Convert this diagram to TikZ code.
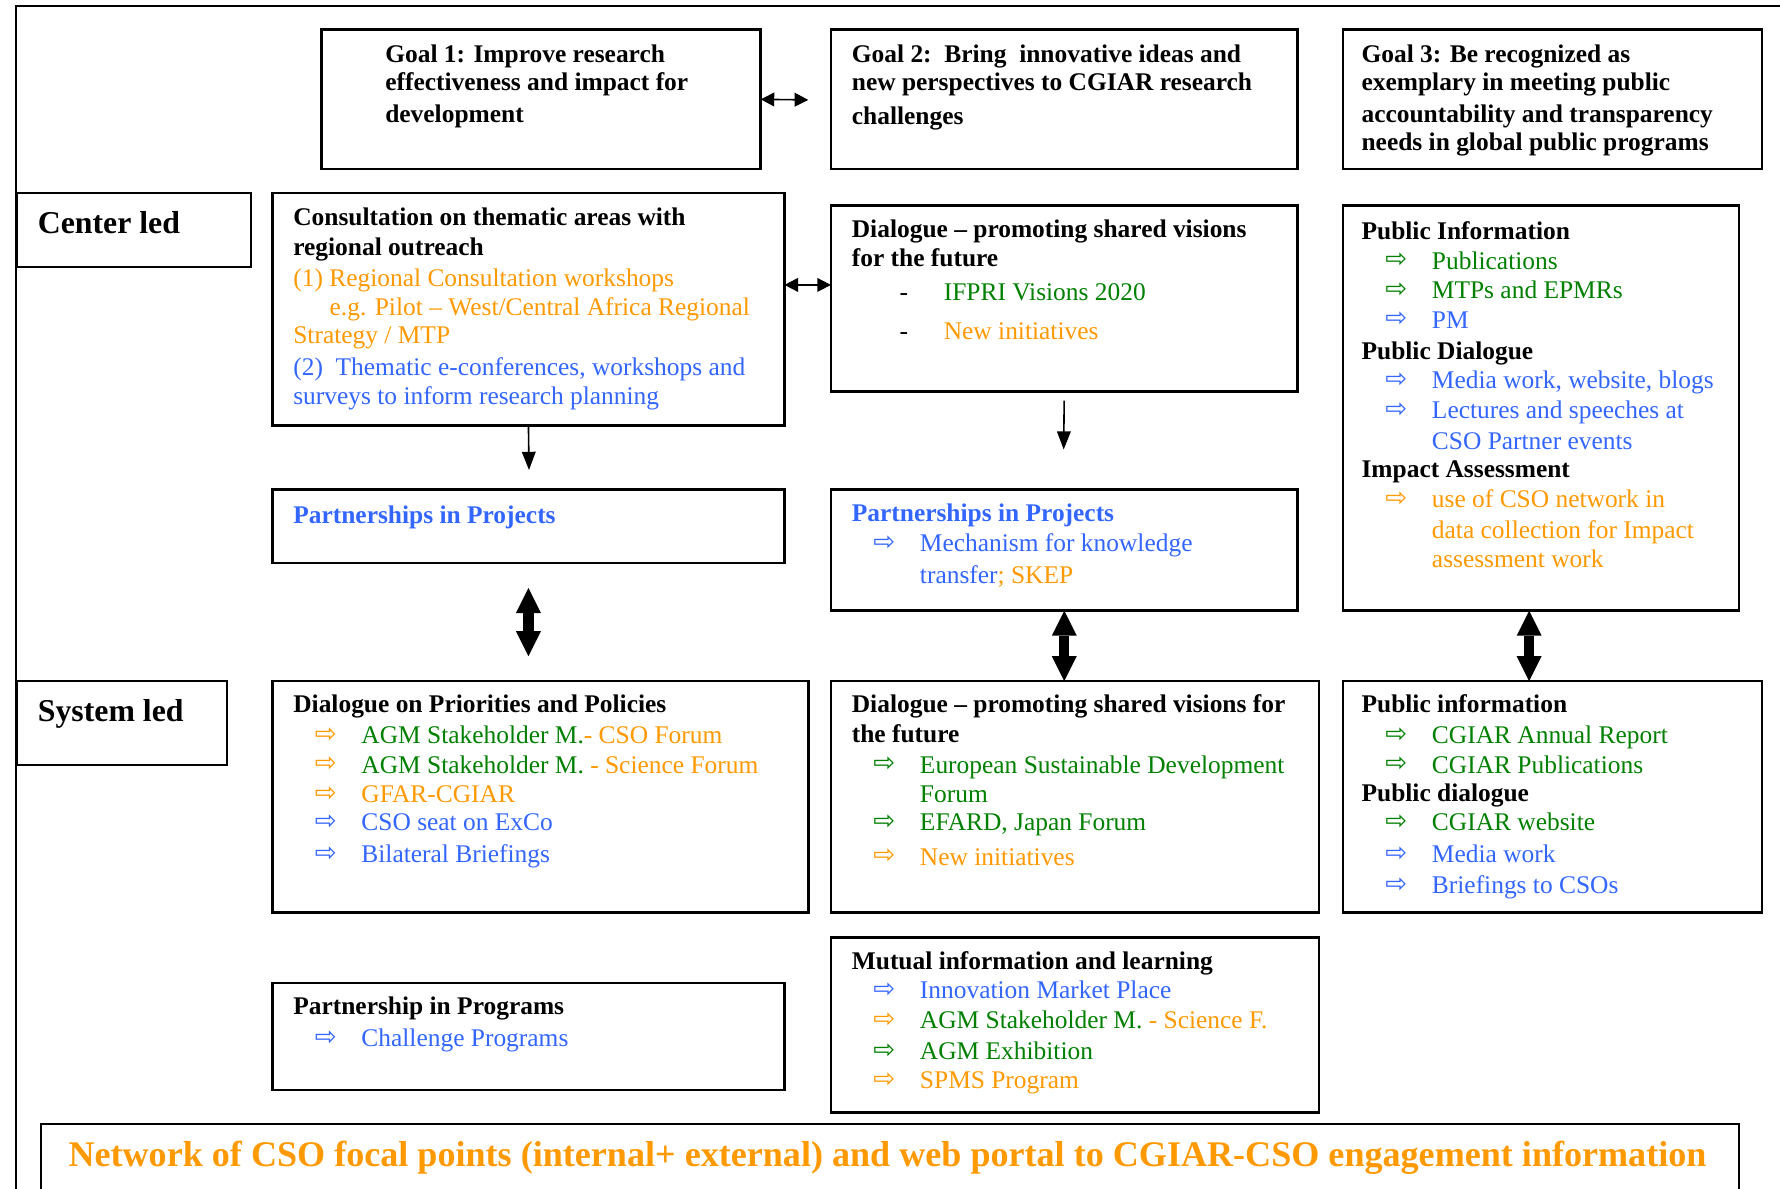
\documentclass[tikz,border=0pt]{standalone}
\usepackage{fontspec}
\setmainfont{Liberation Serif}
\newfontfamily\dejavu{DejaVu Sans}
\usetikzlibrary{arrows.meta,fit}
\definecolor{orn}{HTML}{FF9900}
\definecolor{blu}{HTML}{3366FF}
\definecolor{grn}{HTML}{008000}
\newcounter{tn}
% text line: optional colour, x, y (visual centre), text
\newcommand\TL[4][black]{\stepcounter{tn}\node[tx,text=#1] (t\arabic{tn}) at (#2,#3+7) {#4};}
\newcommand\HD[4][black]{\stepcounter{tn}\node[hd,text=#1] (t\arabic{tn}) at (#2,#3+7) {#4};}
% bullet line: box left, y, arrow colour, text colour, text
\newcommand\BL[5]{\stepcounter{tn}\node[arr,text=#3] (t\arabic{tn}) at (#1+47,#2+6) {⇨};%
 \stepcounter{tn}\node[tx,text=#4] (t\arabic{tn}) at (#1+78,#2+7) {#5};}
\newcommand\BOX[5]{\coordinate (#1-nw) at (#2,#3); \coordinate (#1-se) at (#4,#5);
 \node[box,fit=(#1-nw)(#1-se)] (#1) {};}
\begin{document}
\begin{tikzpicture}[x=0.5pt,y=-0.5pt,
  tx/.style={anchor=base west,inner sep=0pt,font=\fontsize{11.2}{13}\selectfont},
  hd/.style={tx,font=\fontsize{11.2}{13}\selectfont\bfseries},
  big/.style={anchor=base west,inner sep=0pt,font=\fontsize{14}{16}\selectfont\bfseries},
  arr/.style={anchor=base,inner sep=0pt,font=\dejavu\fontsize{11.5}{12}\selectfont},
  box/.style={draw,line width=1.1pt,inner sep=0pt,outer sep=0pt,rectangle},
  frame/.style={line width=1pt},
  dbl/.style={line width=0.7pt,{Triangle[length=6pt,width=6pt]}-{Triangle[length=6pt,width=6pt]}},
  down/.style={line width=0.7pt,-{Triangle[length=8pt,width=6pt]}},
  fat/.style={line width=4.5pt,{Triangle[length=11pt,width=11pt,line width=0pt]}-{Triangle[length=11pt,width=11pt,line width=0pt]}}
]
\useasboundingbox (0,0) rectangle (1568,1047);
\clip (0,0) rectangle (1568,1047);
\fill[white] (0,0) rectangle (1568,1047);
\draw[frame] (14,1060) -- (14,5) -- (1580,5);

% boxes
\BOX{g1}{283}{26}{670}{149}
\BOX{g2}{732}{26}{1143}{149}
\BOX{g3}{1183}{26}{1552}{149}
\BOX{cl}{15}{170}{221}{235}
\BOX{cons}{240}{170}{691}{375}
\BOX{dlg}{732}{181}{1143}{345}
\BOX{pinf}{1183}{181}{1532}{538}
\BOX{pp1}{240}{431}{691}{496}
\BOX{pp2}{732}{431}{1143}{538}
\BOX{sl}{15}{600}{200}{674}
\BOX{dpp}{240}{600}{712}{804}
\BOX{dsv}{732}{600}{1162}{804}
\BOX{spi}{1183}{600}{1552}{804}
\BOX{pip}{240}{866}{691}{960}
\BOX{mil}{732}{826}{1162}{980}
\BOX{net}{36}{990}{1532}{1070}

% goals
\HD{339}{48}{Goal 1: Improve research}
\HD{339}{73}{effectiveness and impact for}
\HD{339}{101}{development}
\HD{750}{48}{Goal 2:\ \ Bring\ \ innovative ideas and}
\HD{750}{73}{new perspectives to CGIAR research}
\HD{750}{103}{challenges}
\HD{1199}{48}{Goal 3: Be recognized as}
\HD{1199}{73}{exemplary in meeting public}
\HD{1199}{101}{accountability and transparency}
\HD{1199}{126}{needs in global public programs}

% row labels
\node[big] (lab1) at (33,206) {Center led};
\node[big] (lab2) at (33,636) {System led};

% consultation
\HD{258}{192}{Consultation on thematic areas with}
\HD{258}{218}{regional outreach}
\TL[orn]{258}{245}{(1) Regional Consultation workshops}
\TL[orn]{290}{271}{e.g. Pilot – West/Central Africa Regional}
\TL[orn]{258}{296}{Strategy / MTP}
\TL[blu]{258}{324}{(2)\ \ Thematic e-conferences, workshops and}
\TL[blu]{258}{349}{surveys to inform research planning}

% dialogue (center)
\HD{750}{202}{Dialogue – promoting shared visions}
\HD{750}{228}{for the future}
\TL{792}{258}{-}
\TL[grn]{831}{258}{IFPRI Visions 2020}
\TL{792}{292}{-}
\TL[orn]{831}{292}{New initiatives}

% public information (center)
\HD{1199}{204}{Public Information}
\BL{1183}{230}{grn}{grn}{Publications}
\BL{1183}{256}{grn}{grn}{MTPs and EPMRs}
\BL{1183}{282}{blu}{blu}{PM}
\HD{1199}{310}{Public Dialogue}
\BL{1183}{335}{blu}{blu}{Media work, website, blogs}
\BL{1183}{362}{blu}{blu}{Lectures and speeches at}
\TL[blu]{1261}{389}{CSO Partner events}
\HD{1199}{414}{Impact Assessment}
\BL{1183}{440}{orn}{orn}{use of CSO network in}
\TL[orn]{1261}{467}{data collection for Impact}
\TL[orn]{1261}{493}{assessment work}

% partnerships in projects
\HD[blu]{258}{454}{Partnerships in Projects}
\HD[blu]{750}{452}{Partnerships in Projects}
\BL{732}{479}{blu}{blu}{Mechanism for knowledge}
\TL{810}{507}{\textcolor{blu}{transfer}\textcolor{orn}{; SKEP}}

% dialogue on priorities
\HD{258}{621}{Dialogue on Priorities and Policies}
\BL{240}{648}{orn}{grn}{AGM Stakeholder M.\textcolor{orn}{- CSO Forum}}
\BL{240}{674}{orn}{grn}{AGM Stakeholder M. \textcolor{orn}{- Science Forum}}
\BL{240}{700}{orn}{orn}{GFAR-CGIAR}
\BL{240}{725}{blu}{blu}{CSO seat on ExCo}
\BL{240}{753}{blu}{blu}{Bilateral Briefings}

% dialogue (system)
\HD{750}{621}{Dialogue – promoting shared visions for}
\HD{750}{647}{the future}
\BL{732}{674}{grn}{grn}{European Sustainable Development}
\TL[grn]{810}{700}{Forum}
\BL{732}{725}{grn}{grn}{EFARD, Japan Forum}
\BL{732}{755}{orn}{orn}{New initiatives}

% public information (system)
\HD{1199}{621}{Public information}
\BL{1183}{648}{grn}{grn}{CGIAR Annual Report}
\BL{1183}{674}{grn}{grn}{CGIAR Publications}
\HD{1199}{699}{Public dialogue}
\BL{1183}{725}{grn}{grn}{CGIAR website}
\BL{1183}{753}{blu}{blu}{Media work}
\BL{1183}{780}{blu}{blu}{Briefings to CSOs}

% partnership in programs
\HD{258}{887}{Partnership in Programs}
\BL{240}{915}{blu}{blu}{Challenge Programs}

% mutual information
\HD{750}{847}{Mutual information and learning}
\BL{732}{873}{blu}{blu}{Innovation Market Place}
\BL{732}{899}{orn}{grn}{AGM Stakeholder M. \textcolor{orn}{- Science F.}}
\BL{732}{926}{grn}{grn}{AGM Exhibition}
\BL{732}{952}{orn}{orn}{SPMS Program}

% banner
\node[anchor=base west,inner sep=0pt,text=orn,font=\fontsize{15.9}{18}\selectfont\bfseries] (bannertext) at (60,1028)
  {Network of CSO focal points (internal+ external) and web portal to CGIAR-CSO engagement information};

% connectors
\coordinate (a1e) at (712,88);
\draw[dbl] (g1.east) -- (a1e);
\coordinate (a2) at (700,251);
\draw[dbl] (cons.east |- a2) -- (dlg.west |- a2);
\coordinate (a3e) at (466,414);
\draw[down] (cons.south) -- (a3e);
\coordinate (a4e) at (937,396);
\draw[down,shorten <=4pt] (dlg.south) -- (a4e);
\draw[fat,shorten <=11pt,shorten >=11pt] (pp1.south) -- (dpp.north -| pp1.south);
\draw[fat] (pp2.south) -- (dsv.north -| pp2.south);
\coordinate (rx) at (1347,0);
\draw[fat] (pinf.south -| rx) -- (spi.north -| rx);
\end{tikzpicture}
\end{document}
